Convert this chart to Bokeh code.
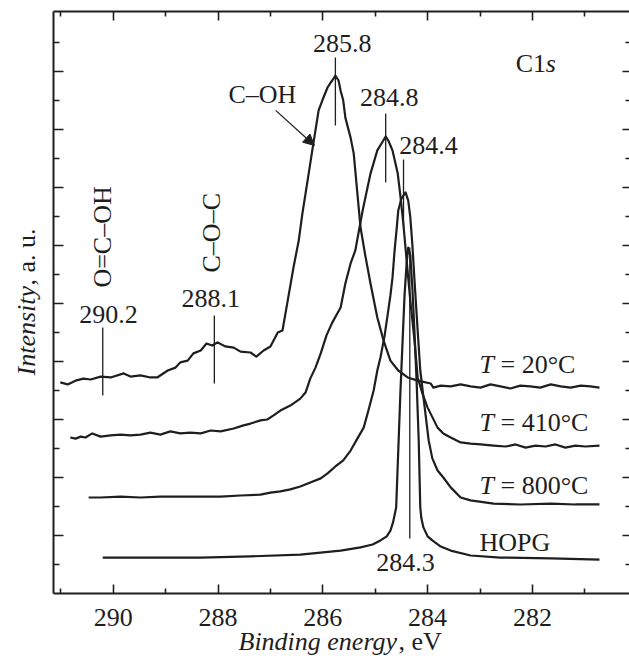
import math
from bokeh.plotting import figure
from bokeh.models import (Range1d, LinearAxis, FixedTicker, Label, Arrow, NormalHead,
                          CustomJSTickFormatter, GridBox)
from bokeh.embed import file_html
from bokeh.resources import INLINE

# ---------------- data (binding energy, eV ; intensity, a.u. offset) ----------------
e_20 = [291.01, 290.87, 290.72, 290.57, 290.43, 290.24, 290.05, 289.80, 289.67, 289.48,
        289.29, 289.16, 288.96, 288.81, 288.72, 288.58, 288.47, 288.33, 288.22, 288.11,
        288.01, 287.86, 287.70, 287.57, 287.38, 287.27, 287.13, 287.00, 286.86, 286.77,
        286.67, 286.56, 286.46, 286.39, 286.27, 286.18, 286.08, 286.01, 285.91, 285.85,
        285.82, 285.76, 285.70, 285.66, 285.61, 285.57, 285.47, 285.41, 285.34, 285.28,
        285.19, 285.09, 284.96, 284.84, 284.71, 284.56, 284.38, 284.19, 283.94, 283.89,
        283.75, 283.56, 283.37, 283.18, 282.99, 282.80, 282.61, 282.42, 282.23, 282.04,
        281.85, 281.65, 281.46, 281.27, 281.08, 280.89, 280.72]
i_20 = [7.28, 7.21, 7.34, 7.41, 7.38, 7.48, 7.45, 7.59, 7.48, 7.52,
        7.45, 7.45, 7.69, 7.79, 7.97, 8.03, 8.28, 8.38, 8.62, 8.55,
        8.66, 8.52, 8.48, 8.34, 8.31, 8.17, 8.38, 8.52, 9.00, 9.07,
        10.10, 11.24, 12.17, 13.10, 14.48, 15.52, 16.66, 17.00, 17.45, 17.62,
        17.69, 17.86, 17.69, 17.34, 17.00, 16.41, 15.72, 15.17, 13.79, 12.62,
        11.66, 10.69, 9.52, 8.72, 8.03, 7.69, 7.45, 7.34, 7.24, 7.10,
        7.17, 7.14, 7.21, 7.14, 7.10, 7.21, 7.14, 7.07, 7.17, 7.14,
        7.10, 7.21, 7.14, 7.10, 7.17, 7.14, 7.10]

e_410 = [290.82, 290.72, 290.62, 290.53, 290.40, 290.24, 290.05, 289.86, 289.67, 289.48,
         289.29, 289.10, 288.91, 288.72, 288.53, 288.33, 288.14, 287.95, 287.70, 287.53,
         287.38, 287.19, 287.06, 286.94, 286.81, 286.62, 286.43, 286.33, 286.24, 286.14,
         286.04, 285.93, 285.82, 285.66, 285.57, 285.47, 285.38, 285.24, 285.09, 284.96,
         284.88, 284.80, 284.75, 284.67, 284.57, 284.52, 284.46, 284.40, 284.33, 284.25,
         284.19, 284.10, 284.00, 283.81, 283.70, 283.56, 283.37, 283.18, 282.99, 282.74,
         282.51, 282.32, 282.13, 281.94, 281.75, 281.56, 281.37, 281.18, 280.99, 280.72]
i_410 = [5.38, 5.34, 5.41, 5.38, 5.52, 5.41, 5.45, 5.48, 5.45, 5.48,
         5.55, 5.48, 5.59, 5.52, 5.55, 5.52, 5.62, 5.59, 5.69, 5.79,
         5.86, 5.97, 6.00, 6.14, 6.31, 6.48, 6.72, 6.93, 7.41, 7.79,
         8.28, 8.90, 9.34, 9.86, 10.69, 11.38, 11.83, 13.21, 14.48, 15.28,
         15.52, 15.76, 15.62, 15.28, 14.48, 13.72, 12.69, 11.48, 10.10, 8.72,
         7.45, 6.90, 6.41, 5.72, 5.52, 5.38, 5.21, 5.17, 5.14, 5.10,
         5.07, 5.14, 5.03, 5.10, 5.07, 5.14, 5.03, 5.10, 5.07, 5.10]

e_800 = [290.47, 290.24, 289.86, 289.48, 289.10, 288.72, 288.33, 287.95, 287.57, 287.19,
         287.00, 286.81, 286.62, 286.43, 286.24, 286.04, 285.91, 285.76, 285.61, 285.47,
         285.36, 285.22, 285.13, 285.03, 284.96, 284.90, 284.82, 284.77, 284.71, 284.67,
         284.63, 284.59, 284.56, 284.50, 284.42, 284.37, 284.33, 284.29, 284.25, 284.19,
         284.14, 284.06, 283.98, 283.91, 283.81, 283.70, 283.56, 283.37, 283.18, 282.74,
         282.23, 281.65, 281.18, 280.72]
i_800 = [3.31, 3.31, 3.34, 3.31, 3.34, 3.34, 3.34, 3.34, 3.38, 3.41,
         3.48, 3.52, 3.59, 3.69, 3.83, 3.97, 4.14, 4.38, 4.59, 4.93,
         5.28, 5.72, 6.31, 7.00, 7.69, 8.14, 8.90, 9.52, 10.28, 10.90,
         11.83, 12.59, 13.21, 13.62, 13.83, 13.55, 12.97, 12.00, 10.79, 9.07,
         7.69, 6.48, 5.28, 4.66, 4.24, 4.00, 3.66, 3.31, 3.21, 3.10,
         3.07, 3.10, 3.07, 3.07]

e_hopg = [290.20, 289.29, 288.33, 287.38, 286.43, 285.66, 285.28, 285.05, 284.90, 284.78,
          284.71, 284.66, 284.60, 284.56, 284.52, 284.48, 284.44, 284.40, 284.37, 284.33,
          284.29, 284.25, 284.21, 284.17, 284.14, 284.12, 284.08, 284.00, 283.91, 283.75,
          283.56, 283.18, 282.61, 281.65, 280.72]
i_hopg = [1.24, 1.24, 1.24, 1.28, 1.34, 1.48, 1.59, 1.69, 1.83, 1.97,
          2.17, 2.45, 2.97, 4.93, 6.90, 8.60, 10.30, 11.40, 11.93, 11.66,
          10.50, 9.00, 7.30, 5.28, 2.97, 2.60, 2.28, 1.97, 1.83, 1.62,
          1.48, 1.31, 1.24, 1.21, 1.17]

# peak markers (position, lower end, upper end)
mark_e = [285.76, 284.80, 284.46, 284.34, 290.20, 288.07]
mark_lo = [16.14, 14.17, 12.62, 1.90, 6.83, 7.24]
mark_hi = [18.48, 16.55, 14.97, 11.93, 9.17, 9.59]

x_major = [282, 284, 286, 288, 290]
x_minor = [281, 283, 285, 287, 289, 291]
y_major = [2, 4, 6, 8, 10, 12, 14, 16, 18]
y_minor = [1, 3, 5, 7, 9, 11, 13, 15, 17, 19]

INK = "#1e1e1e"
FONT = "Liberation Serif"
FS = "26px"
W, H = 629, 658

p = figure(width=W, height=H, output_backend="svg", toolbar_location=None,
           x_range=Range1d(291.14, 280.147), y_range=Range1d(0, 20.07),
           x_axis_location=None, y_axis_location=None,
           min_border_left=53, min_border_right=0, min_border_top=11, min_border_bottom=65)
p.outline_line_color = None
p.grid.visible = False
p.background_fill_color = "white"
p.border_fill_color = "white"
p.frame_align = False

def make_axis(ticks, minor, t_in, m_in, labels, line=True):
    ax = LinearAxis(ticker=FixedTicker(ticks=ticks, minor_ticks=minor))
    ax.major_tick_in = t_in
    ax.major_tick_out = 0
    ax.minor_tick_in = m_in
    ax.minor_tick_out = 0
    ax.major_tick_line_color = INK
    ax.minor_tick_line_color = INK
    ax.major_tick_line_width = 1.6
    ax.minor_tick_line_width = 1.6
    ax.axis_line_width = 2
    ax.axis_line_color = INK if line else None
    if labels:
        ax.major_label_text_font = FONT
        ax.major_label_text_font_size = FS
        ax.major_label_text_color = INK
        ax.major_label_standoff = 15
    else:
        ax.formatter = CustomJSTickFormatter(code="return ''")
        ax.major_label_text_font_size = "0px"
        ax.major_label_standoff = 0
    return ax

p.add_layout(make_axis(x_major, x_minor, 9, 5, True), "below")
p.add_layout(make_axis(x_major, x_minor, 9, 5, False), "above")
p.add_layout(make_axis(y_major, y_minor, 10, 6, False), "left")
p.add_layout(make_axis(y_major, y_minor, 7, 4, False, line=False), "right")

for e, i in [(e_20, i_20), (e_410, i_410), (e_800, i_800), (e_hopg, i_hopg)]:
    p.line(e, i, line_color=INK, line_width=2.2, line_join="round")

p.segment(x0=mark_e, y0=mark_lo, x1=mark_e, y1=mark_hi, line_color=INK, line_width=1.3)

def lab(fig, x, y, text, italic=False, align="left", angle=0.0, xo=0):
    fig.add_layout(Label(x=x, y=y, text=text, text_font=FONT,
                         text_font_style="italic" if italic else "normal",
                         text_font_size=FS, text_color=INK, text_align=align,
                         text_baseline="alphabetic", angle=angle, x_offset=xo))

lab(p, 285.63, 18.95, "285.8", align="center")
lab(p, 284.73, 17.12, "284.8", align="center")
lab(p, 284.54, 15.46, "284.4")
lab(p, 284.42, 1.08, "284.3", align="center")
lab(p, 290.09, 9.63, "290.2", align="center")
lab(p, 288.14, 10.19, "288.1", align="center")
lab(p, 290.20, 10.55, "O=C–OH", angle=math.pi / 2)
lab(p, 288.12, 11.07, "C–O–C", angle=math.pi / 2)
lab(p, 287.80, 17.22, "C–OH")
lab(p, 282.32, 18.29, "C1")
lab(p, 282.32, 18.29, "s", italic=True, xo=30)
for yy, t in [(7.88, "= 20°C"), (5.88, "= 410°C"), (3.74, "= 800°C")]:
    lab(p, 283.01, yy, "T", italic=True)
    lab(p, 283.01, yy, t, xo=21)
lab(p, 283.01, 1.77, "HOPG")

p.add_layout(Arrow(x_start=286.90, y_start=16.66, x_end=286.16, y_end=15.45,
                   line_color=INK, line_width=1.3,
                   end=NormalHead(size=11, fill_color=INK, line_color=INK)))

# transparent overlay (pixel coordinates, origin bottom-left) carrying the axis titles
ov = figure(width=W, height=H, output_backend="svg", toolbar_location=None,
            x_range=Range1d(0, W), y_range=Range1d(0, H),
            x_axis_location=None, y_axis_location=None,
            min_border_left=0, min_border_right=0, min_border_top=0, min_border_bottom=0)
ov.outline_line_color = None
ov.grid.visible = False
ov.background_fill_color = None
ov.border_fill_color = None
ov.frame_align = False

lab(ov, 238, 17, "Binding energy", italic=True)
lab(ov, 398, 17, ", eV")
lab(ov, 26, 283, "Intensity", italic=True, angle=math.pi / 2)
lab(ov, 26, 373, ", a. u.", angle=math.pi / 2)

layout = GridBox(children=[(p, 0, 0), (ov, 0, 0)])

open("out.html", "w").write(file_html(layout, INLINE))
